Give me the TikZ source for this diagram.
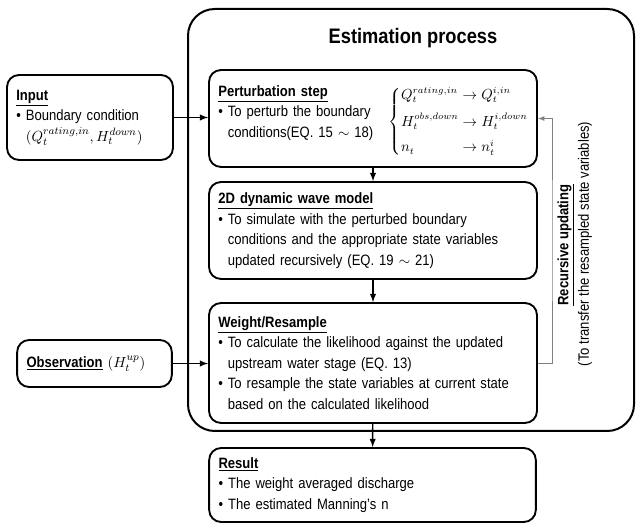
\documentclass[tikz,border=0pt]{standalone}
\usepackage{amsmath}
\usepackage{amssymb}
\usepackage{fontspec}
\setmainfont{Liberation Sans}[FakeStretch=0.87]
\usetikzlibrary{shapes,arrows}
\usetikzlibrary{positioning}

\newcommand{\bodyfont}{\fontsize{11.25}{15.4}\selectfont}
\newcommand{\ind}{\phantom{\textbullet\ }}
\newcommand{\heading}[1]{\underline{\textbf{#1}}}

\begin{document}
\begin{tikzpicture}[>=latex, auto, x=0.75pt, y=-0.75pt]

    \tikzstyle{stepbox}=[draw, line width=1.4pt, rounded corners=9pt, align=left, inner xsep=7pt, font=\bodyfont];
    \tikzstyle{frame}=[draw, line width=1.5pt, rounded corners=20pt, minimum width=334.5pt, minimum height=316.5pt];
    \tikzstyle{flow}=[->, line width=1.1pt];
    \tikzstyle{feedback}=[->, draw=gray, line width=0.7pt];
    \tikzstyle{sidelabel}=[rotate=90, font=\bodyfont];

    \useasboundingbox (0, 0) rectangle (637, 524);

    \node [frame](est) at (411, 220){};
    \node [font=\bfseries\fontsize{15.75}{18}\selectfont](title) at (413, 38){Estimation process};

    \node [stepbox, text width=232pt, minimum height=72.75pt](pert) at (373, 118.5){\heading{Perturbation step}\\
      \textbullet\ To perturb the boundary\\
      \ind conditions(EQ. 15 $\sim$ 18)\\[-5pt]\mbox{}};
    \node [font=\fontsize{10.5}{13}\selectfont](pertmath) at (459, 122){$\left\{\begin{array}{@{}l@{\;}l@{\;}l@{}}
      Q_t^{rating,in} & \rightarrow & Q_t^{i,in}\\[6pt]
      H_t^{obs,down} & \rightarrow & H_t^{i,down}\\[6pt]
      n_t & \rightarrow & n_t^{i}
      \end{array}\right.$};

    \node [stepbox, text width=232pt, minimum height=72.75pt](wave) at (373, 230.5){\heading{2D dynamic wave model}\\
      \textbullet\ To simulate with the perturbed boundary\\
      \ind conditions and the appropriate state variables\\
      \ind updated recursively (EQ. 19 $\sim$ 21)};

    \node [stepbox, text width=232pt, minimum height=90pt](wr) at (373, 363){\heading{Weight/Resample}\\
      \textbullet\ To calculate the likelihood against the updated\\
      \ind upstream water stage (EQ. 13)\\
      \textbullet\ To resample the state variables at current state\\
      \ind based on the calculated likelihood};

    \node [stepbox, text width=231pt, minimum height=55.5pt](res) at (372.5, 485){\heading{Result}\\
      \textbullet\ The weight averaged discharge\\
      \textbullet\ The estimated Manning's n};

    \node [stepbox, text width=110.5pt, minimum height=63.75pt](inp) at (90, 117.5){\heading{Input}\\
      \textbullet\ Boundary condition\\
      \ind $(Q_t^{rating,in}, H_t^{down})$};

    \node [stepbox, text width=102pt, minimum height=35.25pt](obs) at (94.5, 363.5){\heading{Observation} $(H_t^{up})$};

    \coordinate (turn) at (552, 240);

    \draw [flow] (inp.east) -- (inp.east -| pert.west);
    \draw [flow] (obs.east) -- (obs.east -| wr.west);
    \draw [flow] (pert) to (wave);
    \draw [flow] (wave) to (wr);
    \draw [flow] (wr) to (res);
    \draw [feedback] (wr.east) -| (turn) |- (pert.east);

    \node [sidelabel](rlabel) at (566, 245){\heading{Recursive updating}};
    \node [sidelabel](rnote) at (585, 244){(To transfer the resampled state variables)};

\end{tikzpicture}
\end{document}
